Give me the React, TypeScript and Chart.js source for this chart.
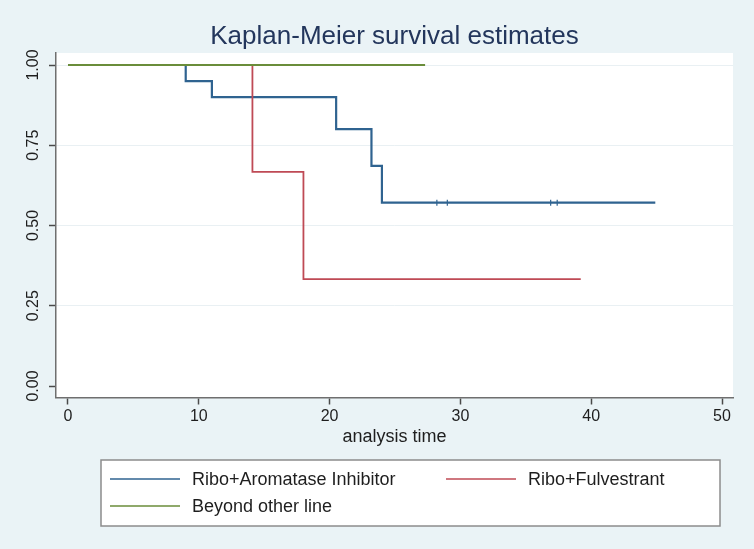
import React, { useEffect, useRef } from "react";
import { Chart, registerables } from "chart.js";

Chart.register(...registerables);

// ---------- data ----------
const chartTitle = "Kaplan-Meier survival estimates";
const xAxisTitle = "analysis time";
const xTicks = [0, 10, 20, 30, 40, 50];
const yTicks = [0, 0.25, 0.5, 0.75, 1];

const seriesLabels = ["Ribo+Aromatase Inhibitor", "Ribo+Fulvestrant", "Beyond other line"];

const aiTimes = [0, 9, 11, 20.5, 23.2, 24, 44.9];
const aiSurvival = [1, 0.95, 0.9, 0.8, 0.686, 0.571, 0.571];
const aiCensorTimes = [28.2, 29.0, 36.9, 37.4];
const aiCensorSurvival = [0.571, 0.571, 0.571, 0.571];

const fulvTimes = [0, 14.1, 18, 39.2];
const fulvSurvival = [1, 0.667, 0.333, 0.333];

const beyondTimes = [0, 27.3];
const beyondSurvival = [1, 1];

// ---------- styles ----------
const FONT = "'Liberation Sans', Arial, Helvetica, sans-serif";
const BG = "#eaf3f6";
const BLUE = "#2f6390";
const RED = "#bf4a55";
const GREEN = "#6a8d3a";

const toPoints = (xs: number[], ys: number[]) => xs.map((x, i) => ({ x, y: ys[i] }));

const backgroundPlugin = {
  id: "kmBackground",
  beforeDraw(chart: any) {
    const { ctx, chartArea: a, width, height } = chart;
    ctx.save();
    ctx.fillStyle = BG;
    ctx.fillRect(0, 0, width, height);
    ctx.fillStyle = "#ffffff";
    ctx.fillRect(a.left, a.top, a.right - a.left, a.bottom - a.top);
    ctx.restore();
  },
};

const boxLegendPlugin = {
  id: "kmBoxLegend",
  afterDraw(chart: any) {
    const ctx = chart.ctx;
    const box = { x: 101, y: 460, w: 619, h: 66 };
    ctx.save();
    ctx.fillStyle = "#ffffff";
    ctx.fillRect(box.x, box.y, box.w, box.h);
    ctx.strokeStyle = "#8c8c8c";
    ctx.lineWidth = 1.5;
    ctx.strokeRect(box.x, box.y, box.w, box.h);
    const slots = [
      { x: 110, y: 479 },
      { x: 446, y: 479 },
      { x: 110, y: 506 },
    ];
    const items = chart.data.datasets.filter((d: any) => !d.isCensor);
    items.forEach((d: any, i: number) => {
      const s = slots[i];
      if (!s) return;
      ctx.strokeStyle = d.borderColor;
      ctx.lineWidth = 1.6;
      ctx.beginPath();
      ctx.moveTo(s.x, s.y);
      ctx.lineTo(s.x + 70, s.y);
      ctx.stroke();
      ctx.fillStyle = "#1e1e1e";
      ctx.font = `18px ${FONT}`;
      ctx.textBaseline = "middle";
      ctx.textAlign = "left";
      ctx.fillText(d.label, s.x + 82, s.y + 1);
    });
    ctx.restore();
  },
};

export default function App() {
  const canvasRef = useRef<HTMLCanvasElement | null>(null);

  useEffect(() => {
    if (!canvasRef.current) return;
    const chart = new Chart(canvasRef.current, {
      type: "line",
      data: {
        datasets: [
          {
            label: seriesLabels[0],
            data: toPoints(aiTimes, aiSurvival),
            borderColor: BLUE,
            backgroundColor: BLUE,
            borderWidth: 2.2,
            stepped: "before",
            pointRadius: 0,
            fill: false,
            borderJoinStyle: "miter",
            borderCapStyle: "butt",
            order: 3,
          },
          {
            label: seriesLabels[1],
            data: toPoints(fulvTimes, fulvSurvival),
            borderColor: RED,
            backgroundColor: RED,
            borderWidth: 1.8,
            stepped: "before",
            pointRadius: 0,
            fill: false,
            borderJoinStyle: "miter",
            borderCapStyle: "butt",
            order: 1,
          },
          {
            label: seriesLabels[2],
            data: toPoints(beyondTimes, beyondSurvival),
            borderColor: GREEN,
            backgroundColor: GREEN,
            borderWidth: 1.8,
            stepped: "before",
            pointRadius: 0,
            fill: false,
            borderCapStyle: "butt",
            order: 0,
          },
          {
            label: "censored",
            isCensor: true,
            data: toPoints(aiCensorTimes, aiCensorSurvival),
            showLine: false,
            borderColor: BLUE,
            backgroundColor: BLUE,
            pointStyle: "line",
            rotation: 90,
            pointRadius: 3,
            borderWidth: 1.2,
            order: 2,
          } as any,
        ],
      },
      options: {
        animation: false,
        responsive: false,
        maintainAspectRatio: false,
        events: [],
        layout: { padding: { left: 0, right: 21, top: 0, bottom: 96.5 } },
        font: { family: FONT },
        plugins: {
          legend: { display: false },
          tooltip: { enabled: false },
          title: {
            display: true,
            text: chartTitle,
            fullSize: false,
            color: "#23365c",
            font: { family: FONT, size: 26, weight: "normal" },
            padding: { top: 21, bottom: 0.8 },
          },
        },
        scales: {
          x: {
            type: "linear",
            min: -0.917,
            max: 50.84,
            afterBuildTicks: (s: any) => {
              s.ticks = xTicks.map((v) => ({ value: v }));
            },
            afterFit: (s: any) => {
              s.height = 55;
            },
            ticks: {
              autoSkip: false,
              maxRotation: 0,
              minRotation: 0,
              padding: 2,
              color: "#1e1e1e",
              font: { family: FONT, size: 16 },
              callback: (v: any) => String(v),
            },
            grid: {
              drawOnChartArea: false,
              drawTicks: true,
              tickLength: 7,
              tickColor: "#4a4a4a",
              tickWidth: 1.5,
            },
            border: { display: true, color: "#6f6f6f", width: 1.5 },
            title: {
              display: true,
              text: xAxisTitle,
              color: "#1e1e1e",
              font: { family: FONT, size: 18 },
              padding: { top: 0, bottom: 5 },
            },
          },
          y: {
            type: "linear",
            min: -0.0358,
            max: 1.0374,
            afterBuildTicks: (s: any) => {
              s.ticks = yTicks.map((v) => ({ value: v }));
            },
            afterFit: (s: any) => {
              s.width = 56;
            },
            ticks: {
              autoSkip: false,
              minRotation: 90,
              maxRotation: 90,
              crossAlign: "center",
              padding: 0,
              color: "#1e1e1e",
              font: { family: FONT, size: 16 },
              callback: (v: any) => Number(v).toFixed(2),
            },
            grid: {
              color: (c: any) => (c.tick && c.tick.value === 0 ? "rgba(0,0,0,0)" : "#e9f0f3"),
              lineWidth: 1,
              drawTicks: true,
              tickLength: 7,
              tickColor: "#4a4a4a",
              tickWidth: 1.5,
            },
            border: { display: true, color: "#6f6f6f", width: 1.5 },
          },
        },
      },
      plugins: [backgroundPlugin, boxLegendPlugin],
    } as any);
    return () => chart.destroy();
  }, []);

  return (
    <div style={{ position: "fixed", left: 0, top: 0, width: 754, height: 549, background: BG }}>
      <canvas ref={canvasRef} width={754} height={549} style={{ display: "block", width: 754, height: 549 }} />
    </div>
  );
}
